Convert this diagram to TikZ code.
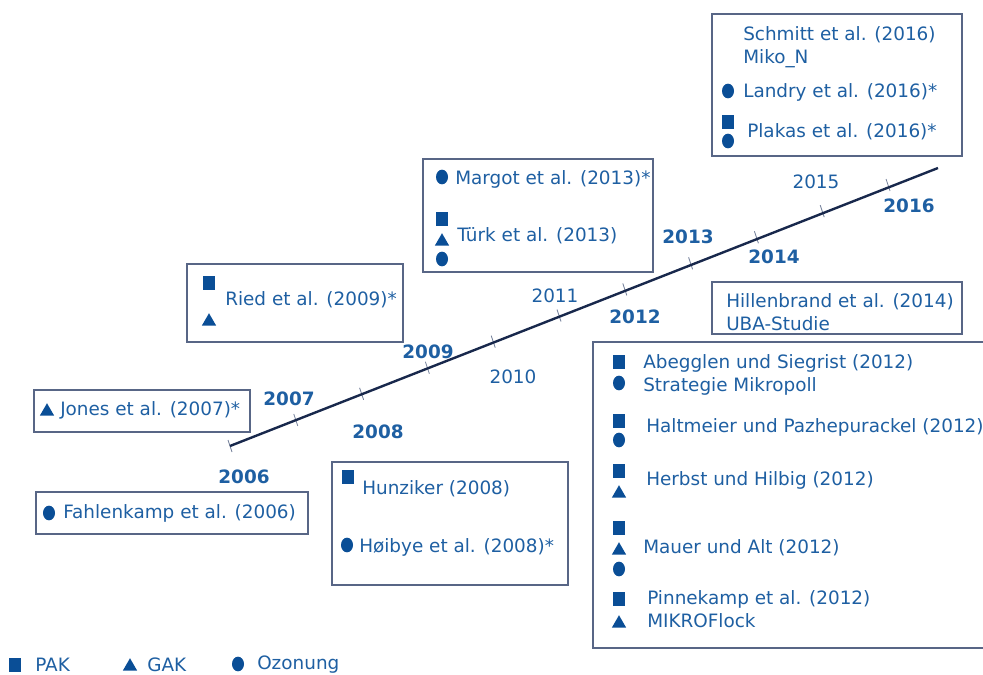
\documentclass[tikz,border=0pt]{standalone}
\usepackage{fontspec}
\setmainfont{DejaVu Sans}
\usetikzlibrary{shapes.geometric,fit,calc}

\definecolor{refblue}{RGB}{30,95,162}
\definecolor{markblue}{RGB}{10,78,150}
\definecolor{axisnavy}{RGB}{24,40,76}
\definecolor{framegray}{RGB}{88,102,134}
\definecolor{tickgray}{RGB}{118,130,156}

\tikzset{
  refbox/.style={draw=framegray, line width=0.8pt, inner sep=0pt},
  lbl/.style={anchor=west, inner sep=0pt, text=refblue, align=left, font=\fontsize{13.8}{17}\selectfont},
  yr/.style={inner sep=0pt, text=refblue, font=\fontsize{13.8}{17}\selectfont},
  yrb/.style={inner sep=0pt, text=refblue, font=\fontsize{13.8}{17}\selectfont\bfseries},
  pak/.style={rectangle, fill=markblue, minimum width=9.5pt, minimum height=10.5pt, inner sep=0pt},
  ozon/.style={ellipse, fill=markblue, minimum width=9pt, minimum height=11pt, inner sep=0pt},
  gak/.style={regular polygon, regular polygon sides=3, fill=markblue, minimum size=12.5pt, inner sep=0pt, anchor=south},
}

\begin{document}
\begin{tikzpicture}[x=0.75pt,y=0.75pt,yscale=-1]
  \useasboundingbox (0,0) rectangle (983,675);
  \clip (0,0) rectangle (983,675);

  % time axis with one tick per year
  \coordinate (t2006) at (230,446);
  \coordinate (t2016) at (888,185);
  \coordinate (tend) at (938,168);
  \foreach \i in {0,...,10}
    \draw [tickgray, line width=0.6pt] ($(t2006)!\i/10!(t2016)+(-2,-6)$) -- ($(t2006)!\i/10!(t2016)+(2,6)$);
  \draw [axisnavy, line width=1.8pt] (t2006) -- (tend);

  \node [yrb] (y2006) at (244,477) {2006};
  \node [yrb] (y2007) at (289,399) {2007};
  \node [yrb] (y2008) at (378,432) {2008};
  \node [yrb] (y2009) at (428,352) {2009};
  \node [yr]  (y2010) at (513,377) {2010};
  \node [yr]  (y2011) at (555,296) {2011};
  \node [yrb] (y2012) at (635,317) {2012};
  \node [yrb] (y2013) at (688,237) {2013};
  \node [yrb] (y2014) at (774,257) {2014};
  \node [yr]  (y2015) at (816,182) {2015};
  \node [yrb] (y2016) at (909,206) {2016};

  % boxes
  \node [refbox, fit={(712,14) (962,156)}] (box2016) {};
  \node [refbox, fit={(423,159) (653,272)}] (box2013) {};
  \node [refbox, fit={(187,264) (403,342)}] (box2009) {};
  \node [refbox, fit={(34,390) (250,432)}] (box2007) {};
  \node [refbox, fit={(36,492) (308,534)}] (box2006) {};
  \node [refbox, fit={(332,462) (568,585)}] (box2008) {};
  \node [refbox, fit={(712,282) (962,334)}] (box2014) {};
  \node [refbox, fit={(593,342) (995,648)}] (box2012) {};

  % 2016
  \node [lbl] (schmitt) at (743,47) {Schmitt et al. (2016)\\Miko\_N};
  \node [ozon] (landry-o) at (728,91) {};
  \node [lbl] (landry) at (743,92) {Landry et al. (2016)*};
  \node [pak] (plakas-p) at (728,122) {};
  \node [ozon] (plakas-o) at (728,141) {};
  \node [lbl] (plakas) at (747,132) {Plakas et al. (2016)*};

  % 2013
  \node [ozon] (margot-o) at (442,177) {};
  \node [lbl] (margot) at (455,179) {Margot et al. (2013)*};
  \node [pak] (tuerk-p) at (442,219) {};
  \node [gak] (tuerk-g) at (442,246) {};
  \node [ozon] (tuerk-o) at (442,259) {};
  \node [lbl] (tuerk) at (457,236) {Türk et al. (2013)};

  % 2009
  \node [pak] (ried-p) at (209,283) {};
  \node [gak] (ried-g) at (209,326) {};
  \node [lbl] (ried) at (225,300) {Ried et al. (2009)*};

  % 2007
  \node [gak] (jones-g) at (47,416) {};
  \node [lbl] (jones) at (60,410) {Jones et al. (2007)*};

  % 2006
  \node [ozon] (fahlenkamp-o) at (49,513) {};
  \node [lbl] (fahlenkamp) at (63,513) {Fahlenkamp et al. (2006)};

  % 2008
  \node [pak] (hunziker-p) at (348,477) {};
  \node [lbl] (hunziker) at (362,489) {Hunziker (2008)};
  \node [ozon] (hoibye-o) at (347,545) {};
  \node [lbl] (hoibye) at (359,547) {Høibye et al. (2008)*};

  % 2014
  \node [lbl] (hillenbrand) at (726,312) {Hillenbrand et al. (2014)\\UBA-Studie};

  % 2012
  \node [pak] (abegglen-p) at (619,362) {};
  \node [ozon] (abegglen-o) at (619,383) {};
  \node [lbl] (abegglen) at (643,375) {Abegglen und Siegrist (2012)\\Strategie Mikropoll};
  \node [pak] (haltmeier-p) at (619,421) {};
  \node [ozon] (haltmeier-o) at (619,440) {};
  \node [lbl] (haltmeier) at (646,427) {Haltmeier und Pazhepurackel (2012)};
  \node [pak] (herbst-p) at (619,471) {};
  \node [gak] (herbst-g) at (619,498) {};
  \node [lbl] (herbst) at (646,480) {Herbst und Hilbig (2012)};
  \node [pak] (mauer-p) at (619,528) {};
  \node [gak] (mauer-g) at (619,555) {};
  \node [ozon] (mauer-o) at (619,569) {};
  \node [lbl] (mauer) at (643,548) {Mauer und Alt (2012)};
  \node [pak] (pinnekamp-p) at (619,599) {};
  \node [gak] (pinnekamp-g) at (619,628) {};
  \node [lbl] (pinnekamp) at (647,609) {Pinnekamp et al. (2012)\\MIKROFlock};

  % legend
  \node [pak] (leg-p) at (15,665) {};
  \node [lbl] (leg-pak) at (35,665) {PAK};
  \node [gak] (leg-g) at (130,671) {};
  \node [lbl] (leg-gak) at (147,665) {GAK};
  \node [ozon] (leg-o) at (238,664) {};
  \node [lbl] (leg-ozon) at (257,665) {Ozonung};
\end{tikzpicture}
\end{document}
